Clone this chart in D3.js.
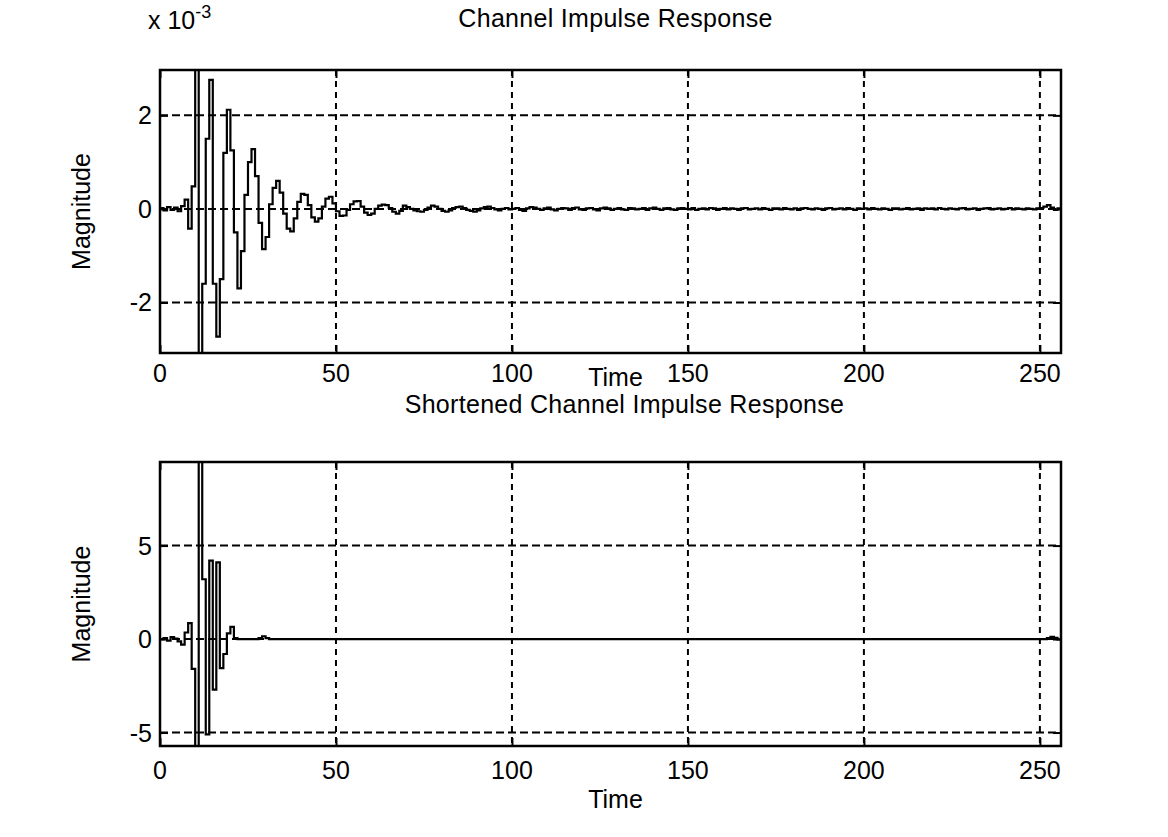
<!DOCTYPE html>
<html>
<head>
<meta charset="utf-8">
<script src="https://cdn.jsdelivr.net/npm/d3@7"></script>
<style>
  html, body { margin: 0; padding: 0; background: #ffffff; }
  svg { display: block; }
  text { font-family: "Liberation Sans", Arial, sans-serif; fill: #000; }
</style>
</head>
<body>
<svg id="chart" width="1168" height="837"></svg>
<script>
// ---------------- DATA ----------------
const titles = ["Channel Impulse Response", "Shortened Channel Impulse Response"];
const xLabel = "Time";
const yLabel = "Magnitude";
const xTicks = [0, 50, 100, 150, 200, 250];
const yTicksTop = [-2, 0, 2];
const yTicksBottom = [-5, 0, 5];
const topExponentLabel = "x 10";
const topExponent = "-3";

// Channel impulse response (units of 1e-3), samples t = 0..256
const channelResponse = [
  0.02, -0.03, 0.04, -0.02, 0.03, -0.05, 0.06, 0.20, -0.42, 0.48,
  3.00, -3.10, -1.60, 1.50, 2.76, -1.60, -2.73, -1.50, 1.20, 2.12,
  1.25, -0.50, -1.70, -0.90, 0.30, 1.00, 1.28, 0.70, -0.30, -0.86,
  -0.60, 0.10, 0.45, 0.60, 0.35, -0.10, -0.42, -0.48, -0.20, 0.15,
  0.32, 0.30, 0.08, -0.18, -0.27, -0.20, 0.05, 0.22, 0.26, 0.12,
  -0.05, -0.15, -0.14, -0.02, 0.10, 0.16, 0.17, 0.05, -0.08, -0.13,
  -0.10, 0.00, 0.07, 0.09, 0.08, 0.02, -0.06, -0.10, -0.04, 0.07,
  0.04, 0.00, -0.03, -0.05, -0.06, -0.02, 0.03, 0.07, 0.05, 0.00,
  -0.04, -0.06, -0.03, 0.02, 0.04, 0.05, 0.02, -0.02, -0.04, -0.06,
  -0.03, 0.01, 0.04, 0.05, 0.02, -0.01, -0.03, 0.00, 0.02, -0.01,
  0.00, 0.02, -0.02, -0.04, 0.01, 0.04, 0.03, 0.00, -0.02, 0.01,
  0.03, -0.01, -0.03, 0.00, 0.02, 0.01, -0.02, 0.02, 0.03, -0.01,
  -0.02, 0.01, 0.02, -0.01, -0.03, 0.01, 0.03, 0.01, -0.02, 0.00,
  0.02, -0.01, -0.02, 0.02, 0.01, -0.01, 0.00, 0.02, -0.02, 0.01,
  0.03, 0.00, -0.02, 0.01, 0.02, -0.01, -0.02, 0.01, 0.02, 0.00,
  -0.01, 0.02, -0.02, 0.00, 0.01, -0.01, 0.02, 0.01, -0.02, 0.00,
  0.02, -0.01, 0.01, 0.00, -0.02, 0.01, 0.02, -0.01, 0.00, 0.01,
  -0.01, 0.02, 0.00, -0.02, 0.01, 0.01, -0.01, 0.02, 0.00, -0.01,
  0.01, -0.02, 0.01, 0.02, 0.00, -0.01, 0.01, 0.00, -0.02, 0.01,
  0.02, -0.01, 0.00, 0.01, -0.01, 0.02, 0.00, -0.02, 0.01, 0.00,
  0.01, -0.01, 0.02, 0.00, -0.01, 0.01, 0.00, -0.02, 0.01, 0.01,
  -0.01, 0.00, 0.02, -0.01, 0.00, 0.01, -0.02, 0.01, 0.00, 0.01,
  -0.01, 0.02, 0.00, -0.01, 0.01, 0.00, -0.01, 0.01, 0.02, -0.01,
  0.00, 0.01, -0.02, 0.00, 0.01, 0.02, -0.01, 0.00, 0.01, -0.01,
  0.00, 0.02, -0.01, 0.01, 0.00, -0.01, 0.01, 0.00, -0.01, 0.01,
  0.02, 0.05, 0.08, 0.03, -0.02, 0.01, 0.00
];

// Shortened channel impulse response, samples t = 0..256
const shortenedHead = [
  0.00, 0.05, -0.08, 0.10, 0.02, -0.12, -0.30, 0.35, 0.85, -1.60,
  -5.80, 9.50, 3.20, -5.10, 4.20, -2.70, 4.10, -1.55, -0.80, 0.30,
  0.65, 0.05, 0.00, 0.00, 0.00, 0.00, 0.00, 0.00, 0.05, 0.15,
  0.05, 0.00
];
const shortenedTail = [0.05, 0.12, 0.06, -0.02, 0.00];
const shortenedResponse = shortenedHead.concat(
  new Array(257 - shortenedHead.length - shortenedTail.length).fill(0),
  shortenedTail
);

// ---------------- LAYOUT ----------------
const svg = d3.select("#chart");
const panels = [
  { top: 70, bottom: 353, domain: [-3.08, 2.97], yTicks: yTicksTop, data: channelResponse,
    title: titles[0], titleY: 27, titleDx: 5, tickY: 382, xLabelY: 386 },
  { top: 462, bottom: 746, domain: [-5.72, 9.47], yTicks: yTicksBottom, data: shortenedResponse,
    title: titles[1], titleY: 413, titleDx: 14, tickY: 779, xLabelY: 808 }
];
const left = 160, right = 1061;
const fontSize = 25;

const x = d3.scaleLinear().domain([0, 256]).range([left, right]);

panels.forEach((p, i) => {
  const y = d3.scaleLinear().domain(p.domain).range([p.bottom, p.top]);
  const g = svg.append("g");

  g.append("rect").attr("x", left).attr("y", p.top)
    .attr("width", right - left).attr("height", p.bottom - p.top)
    .attr("fill", "#fff");

  // grid lines
  g.selectAll(".vgrid").data(xTicks.filter(t => t > 0)).enter().append("line")
    .attr("x1", d => x(d)).attr("x2", d => x(d))
    .attr("y1", p.top).attr("y2", p.bottom)
    .attr("stroke", "#000").attr("stroke-width", 2)
    .attr("stroke-dasharray", "6,5");
  g.selectAll(".hgrid").data(p.yTicks).enter().append("line")
    .attr("x1", left).attr("x2", right)
    .attr("y1", d => y(d)).attr("y2", d => y(d))
    .attr("stroke", "#000").attr("stroke-width", 2)
    .attr("stroke-dasharray", "8,4");

  const clipId = "clip" + i;
  svg.append("clipPath").attr("id", clipId).append("rect")
    .attr("x", left).attr("y", p.top)
    .attr("width", right - left).attr("height", p.bottom - p.top);

  const line = d3.line()
    .x((d, k) => x(k))
    .y(d => y(d))
    .curve(d3.curveStepAfter);
  g.append("path").datum(p.data)
    .attr("clip-path", "url(#" + clipId + ")")
    .attr("d", line)
    .attr("fill", "none").attr("stroke", "#000")
    .attr("stroke-width", 2.2).attr("stroke-linejoin", "miter");

  const xAxisB = d3.axisBottom(x).tickValues(xTicks).tickSize(-8).tickFormat("");
  const xAxisT = d3.axisTop(x).tickValues(xTicks).tickSize(-8).tickFormat("");
  const yAxisL = d3.axisLeft(y).tickValues(p.yTicks).tickSize(-8).tickFormat("");
  const yAxisR = d3.axisRight(y).tickValues(p.yTicks).tickSize(-8).tickFormat("");
  [[xAxisB, `translate(0,${p.bottom})`], [xAxisT, `translate(0,${p.top})`],
   [yAxisL, `translate(${left},0)`], [yAxisR, `translate(${right},0)`]].forEach(([ax, tr]) => {
    const a = g.append("g").attr("transform", tr).call(ax);
    a.select(".domain").remove();
    a.selectAll("line").attr("stroke", "#000").attr("stroke-width", 2);
  });

  g.append("rect").attr("x", left).attr("y", p.top)
    .attr("width", right - left).attr("height", p.bottom - p.top)
    .attr("fill", "none").attr("stroke", "#000").attr("stroke-width", 2.5);

  // tick labels
  g.selectAll(".xlab").data(xTicks).enter().append("text")
    .attr("x", d => x(d)).attr("y", p.tickY)
    .attr("text-anchor", "middle").attr("font-size", fontSize)
    .text(d => d);
  g.selectAll(".ylab").data(p.yTicks).enter().append("text")
    .attr("x", left - 8).attr("y", d => y(d) + 9)
    .attr("text-anchor", "end").attr("font-size", fontSize)
    .text(d => d);

  // axis labels
  g.append("text")
    .attr("x", (left + right) / 2 + 5).attr("y", p.xLabelY)
    .attr("text-anchor", "middle").attr("font-size", fontSize)
    .text(xLabel);
  g.append("text")
    .attr("transform", `translate(90,${(p.top + p.bottom) / 2}) rotate(-90)`)
    .attr("text-anchor", "middle").attr("font-size", fontSize)
    .text(yLabel);

  // title
  g.append("text")
    .attr("x", (left + right) / 2 + p.titleDx).attr("y", p.titleY)
    .attr("text-anchor", "middle").attr("font-size", fontSize)
    .attr("letter-spacing", 0.3)
    .text(p.title);

  if (i === 0) {
    const t = g.append("text").attr("x", left - 12).attr("y", p.titleY + 2)
      .attr("font-size", fontSize);
    t.append("tspan").text(topExponentLabel);
    t.append("tspan").attr("dy", -11).attr("font-size", 18).text(topExponent);
  }
});
</script>
</body>
</html>
